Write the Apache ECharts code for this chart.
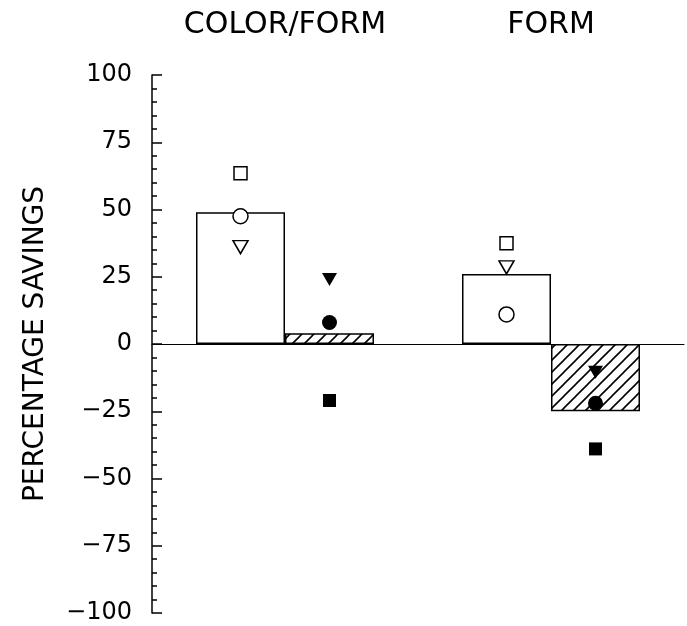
<!DOCTYPE html>
<html>
<head>
<meta charset="utf-8">
<script src="https://cdn.jsdelivr.net/npm/echarts@6/dist/echarts.min.js"></script>
<style>
  html, body { margin: 0; padding: 0; background: #fff; }
  #chart { width: 687px; height: 626px; }
</style>
</head>
<body>
<div id="chart"></div>
<script>
// -------------------- data --------------------
const groups = ['COLOR/FORM', 'FORM']
const openBar = [49, 26]
const hatchBar = [4, -25]

// individual subjects (open markers sit on the open bar, filled on the hatched one)
const openSquare = [63.5, 37.5]
const openCircle = [47.5, 11]
const openTriangle = [36, 28.5]
const filledTriangle = [24, -10.5]
const filledCircle = [8, -22]
const filledSquare = [-21, -39]

const yTicks = [-100, -75, -50, -25, 0, 25, 50, 75, 100]

// -------------------- hatch pattern --------------------
function makeHatch() {
  const s = 12
  const c = document.createElement('canvas')
  c.width = s
  c.height = s
  const ctx = c.getContext('2d')
  ctx.fillStyle = '#fff'
  ctx.fillRect(0, 0, s, s)
  ctx.strokeStyle = '#000'
  ctx.lineWidth = 1.6
  ctx.beginPath()
  ctx.moveTo(0, s); ctx.lineTo(s, 0)
  ctx.moveTo(-2, 2); ctx.lineTo(2, -2)
  ctx.moveTo(s - 2, s + 2); ctx.lineTo(s + 2, s - 2)
  ctx.stroke()
  return c
}

const font = 'DejaVu Sans'
const half = 44.5

function marker(name, data, symbol, filled, side, rotate) {
  return {
    name: name,
    type: 'scatter',
    xAxisIndex: 0,
    data: data,
    symbol: symbol,
    symbolSize: symbol === 'circle' ? 15 : (symbol === 'rect' ? 13 : [15, 13]),
    symbolRotate: rotate || 0,
    symbolOffset: [side * half, 0],
    z: 5,
    itemStyle: filled
      ? { color: '#000', opacity: 1 }
      : { color: '#fff', borderColor: '#000', borderWidth: 1.5, opacity: 1 }
  }
}

const chart = echarts.init(document.getElementById('chart'))

chart.setOption({
  animation: false,
  grid: { left: 152, right: 3, top: 75, bottom: 13 },
  xAxis: [
    {
      type: 'category',
      data: groups,
      position: 'top',
      axisLine: { show: false, onZero: false },
      axisTick: { show: false },
      axisLabel: { margin: 35, fontSize: 30, fontFamily: font, color: '#000' }
    },
    {
      type: 'category',
      data: groups,
      position: 'bottom',
      axisLine: { show: true, onZero: true, lineStyle: { color: '#000', width: 1 } },
      axisTick: { show: false },
      axisLabel: { show: false }
    }
  ],
  yAxis: {
    type: 'value',
    min: yTicks[0],
    max: yTicks[yTicks.length - 1],
    interval: 25,
    name: 'PERCENTAGE SAVINGS',
    nameLocation: 'middle',
    nameRotate: 90,
    nameGap: 102,
    nameTextStyle: { fontSize: 28, fontFamily: font, color: '#000' },
    axisLine: { show: true, lineStyle: { color: '#000', width: 1.5 } },
    axisTick: { show: true, inside: true, length: 10, lineStyle: { color: '#000', width: 1.5 } },
    minorTick: { show: true, splitNumber: 5, length: 5, lineStyle: { color: '#000', width: 1.5 } },
    splitLine: { show: false },
    axisLabel: {
      margin: 20,
      fontSize: 24,
      fontFamily: font,
      color: '#000',
      formatter: v => String(v).replace('-', '\u2212')
    }
  },
  series: [
    {
      name: 'open',
      type: 'bar',
      data: openBar,
      barWidth: 89,
      barGap: '0%',
      itemStyle: { color: '#fff', borderColor: '#000', borderWidth: 1.5 }
    },
    {
      name: 'hatched',
      type: 'bar',
      data: hatchBar,
      barWidth: 89,
      barGap: '0%',
      itemStyle: {
        color: { image: makeHatch(), repeat: 'repeat' },
        borderColor: '#000',
        borderWidth: 1.5
      }
    },
    marker('open square', openSquare, 'rect', false, -1),
    marker('open circle', openCircle, 'circle', false, -1),
    marker('open triangle', openTriangle, 'triangle', false, -1, 180),
    marker('filled triangle', filledTriangle, 'triangle', true, 1, 180),
    marker('filled circle', filledCircle, 'circle', true, 1),
    marker('filled square', filledSquare, 'rect', true, 1)
  ]
})
</script>
</body>
</html>
